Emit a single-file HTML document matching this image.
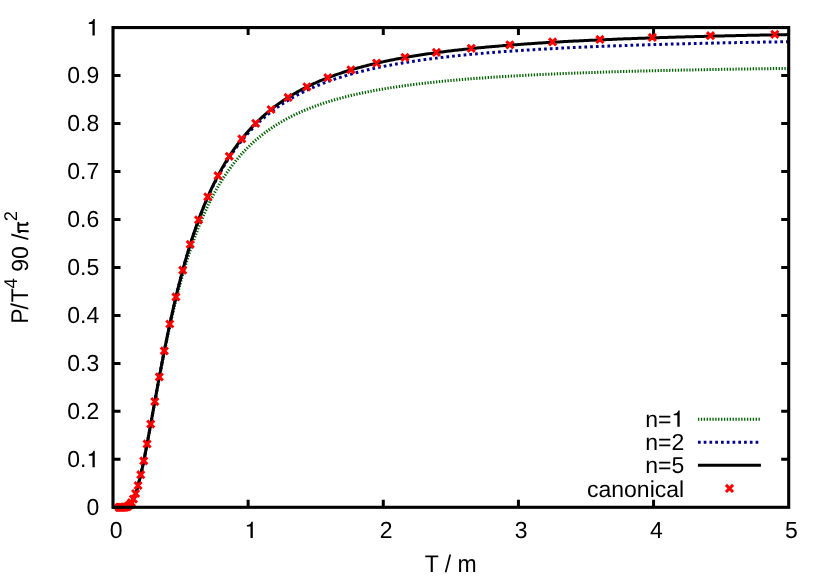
<!DOCTYPE html>
<html>
<head>
<meta charset="utf-8">
<title>P/T^4 vs T/m</title>
<style>
html,body{margin:0;padding:0;background:#ffffff;}
body{width:830px;height:581px;overflow:hidden;}
svg{display:block;will-change:transform;}
text{font-family:"Liberation Sans",sans-serif;font-size:23.0px;fill:#000;text-rendering:geometricPrecision;}
</style>
</head>
<body>
<svg width="830" height="581" viewBox="0 0 830 581">
<rect x="0" y="0" width="830" height="581" fill="#ffffff"/>
<path d="M248.14,507.30 v-7.50 M248.14,27.57 v7.50 M383.28,507.30 v-7.50 M383.28,27.57 v7.50 M518.42,507.30 v-7.50 M518.42,27.57 v7.50 M653.56,507.30 v-7.50 M653.56,27.57 v7.50 M113.00,459.33 h7.50 M788.70,459.33 h-7.50 M113.00,411.35 h7.50 M788.70,411.35 h-7.50 M113.00,363.38 h7.50 M788.70,363.38 h-7.50 M113.00,315.41 h7.50 M788.70,315.41 h-7.50 M113.00,267.44 h7.50 M788.70,267.44 h-7.50 M113.00,219.46 h7.50 M788.70,219.46 h-7.50 M113.00,171.49 h7.50 M788.70,171.49 h-7.50 M113.00,123.52 h7.50 M788.70,123.52 h-7.50 M113.00,75.54 h7.50 M788.70,75.54 h-7.50" fill="none" stroke="#000" stroke-width="3" stroke-linecap="butt"/>
<g fill="none" stroke-linecap="butt" stroke-linejoin="round">
<path d="M113.00,507.30 L113.51,507.30 L114.02,507.30 L114.52,507.30 L115.03,507.30 L115.54,507.30 L116.05,507.30 L116.56,507.30 L117.06,507.30 L117.57,507.30 L118.08,507.30 L118.59,507.30 L119.10,507.30 L119.60,507.30 L120.11,507.30 L120.62,507.30 L121.13,507.30 L121.64,507.30 L122.14,507.29 L122.65,507.29 L123.16,507.27 L123.67,507.25 L124.18,507.22 L124.69,507.18 L125.19,507.11 L125.70,507.03 L126.21,506.91 L126.72,506.76 L127.23,506.57 L127.73,506.33 L128.24,506.04 L128.75,505.69 L129.26,505.28 L129.77,504.80 L130.27,504.25 L130.78,503.63 L131.29,502.93 L131.80,502.14 L132.31,501.28 L132.81,500.33 L133.32,499.29 L133.83,498.17 L134.34,496.96 L134.85,495.66 L135.35,494.28 L135.86,492.81 L136.37,491.27 L136.88,489.64 L137.39,487.93 L137.89,486.15 L138.40,484.29 L138.91,482.36 L139.42,480.37 L139.93,478.31 L140.43,476.18 L140.94,474.00 L141.45,471.76 L141.96,469.46 L142.47,467.12 L142.97,464.73 L143.48,462.29 L143.99,459.82 L144.50,457.30 L145.01,454.76 L145.51,452.17 L146.02,449.56 L146.53,446.92 L147.04,444.26 L147.55,441.58 L148.06,438.87 L148.56,436.15 L149.07,433.42 L149.58,430.67 L150.09,427.91 L150.60,425.14 L151.10,422.37 L151.61,419.59 L152.12,416.81 L152.63,414.03 L153.14,411.24 L153.64,408.46 L154.15,405.68 L154.66,402.91 L155.17,400.14 L155.68,397.38 L156.18,394.62 L156.69,391.88 L157.20,389.15 L157.71,386.42 L158.22,383.71 L158.72,381.01 L159.23,378.32 L159.74,375.65 L160.25,373.00 L160.76,370.35 L161.26,367.73 L161.77,365.12 L162.28,362.53 L162.79,359.95 L163.30,357.40 L163.80,354.86 L164.31,352.34 L164.82,349.84 L165.33,347.35 L165.84,344.89 L166.34,342.45 L166.85,340.03 L167.36,337.62 L167.87,335.24 L168.38,332.88 L168.88,330.54 L169.39,328.22 L169.90,325.91 L170.41,323.63 L170.92,321.38 L171.43,319.14 L171.93,316.92 L172.44,314.72 L172.95,312.55 L173.46,310.39 L173.97,308.26 L174.47,306.14 L174.98,304.05 L175.49,301.97 L176.00,299.92 L176.51,297.89 L177.01,295.88 L177.52,293.88 L178.03,291.91 L178.54,289.96 L179.05,288.03 L179.55,286.11 L180.06,284.22 L180.57,282.35 L181.08,280.49 L181.59,278.66 L182.09,276.84 L182.60,275.04 L183.11,273.26 L183.62,271.50 L184.13,269.76 L184.63,268.03 L185.14,266.33 L185.65,264.64 L186.16,262.97 L186.67,261.31 L187.17,259.68 L187.68,258.06 L188.19,256.46 L188.70,254.87 L189.21,253.30 L189.71,251.75 L190.22,250.22 L190.73,248.70 L191.24,247.19 L191.75,245.70 L192.26,244.23 L192.76,242.78 L193.27,241.34 L193.78,239.91 L194.29,238.50 L194.80,237.10 L195.30,235.72 L195.81,234.35 L196.32,233.00 L196.83,231.66 L197.34,230.34 L197.84,229.03 L198.35,227.73 L198.86,226.45 L199.37,225.18 L199.88,223.92 L200.38,222.68 L200.89,221.45 L201.40,220.23 L201.91,219.03 L202.42,217.83 L202.92,216.65 L203.43,215.48 L203.94,214.33 L204.45,213.19 L204.96,212.05 L205.46,210.93 L205.97,209.82 L206.48,208.73 L206.99,207.64 L207.50,206.56 L208.00,205.50 L208.51,204.45 L209.02,203.40 L209.53,202.37 L210.04,201.35 L210.54,200.34 L211.05,199.34 L211.56,198.35 L212.07,197.37 L212.58,196.39 L213.08,195.43 L213.59,194.48 L214.10,193.54 L214.61,192.61 L215.12,191.68 L215.63,190.77 L216.13,189.86 L216.64,188.97 L217.15,188.08 L217.66,187.20 L218.17,186.33 L218.67,185.47 L219.18,184.61 L219.69,183.77 L220.20,182.93 L220.71,182.10 L221.21,181.28 L221.72,180.47 L222.23,179.67 L222.74,178.87 L223.25,178.08 L223.75,177.30 L224.26,176.53 L224.77,175.76 L225.28,175.00 L225.79,174.25 L226.29,173.50 L226.80,172.77 L227.31,172.04 L227.82,171.31 L228.33,170.59 L228.83,169.88 L229.34,169.18 L229.85,168.48 L230.36,167.79 L230.87,167.11 L231.37,166.43 L231.88,165.76 L232.39,165.09 L232.90,164.43 L233.41,163.78 L233.91,163.13 L234.42,162.49 L234.93,161.86 L235.44,161.23 L235.95,160.61 L236.45,159.99 L236.96,159.38 L237.47,158.77 L237.98,158.17 L238.49,157.57 L239.00,156.98 L239.50,156.40 L240.01,155.82 L240.52,155.24 L241.03,154.67 L241.54,154.11 L242.04,153.55 L242.55,152.99 L243.06,152.44 L243.57,151.90 L244.08,151.36 L244.58,150.82 L245.09,150.29 L245.60,149.77 L246.11,149.24 L246.62,148.73 L247.12,148.21 L247.63,147.71 L248.14,147.20 L248.65,146.70 L249.16,146.21 L249.66,145.72 L250.17,145.23 L250.68,144.75 L251.19,144.27 L251.70,143.80 L252.20,143.33 L252.71,142.86 L253.22,142.40 L253.73,141.94 L254.24,141.48 L254.74,141.03 L255.25,140.59 L255.76,140.14 L256.27,139.70 L256.78,139.27 L257.28,138.83 L257.79,138.41 L258.30,137.98 L258.81,137.56 L259.32,137.14 L259.83,136.73 L260.33,136.31 L260.84,135.91 L261.35,135.50 L261.86,135.10 L262.37,134.70 L262.87,134.31 L263.38,133.91 L263.89,133.53 L264.40,133.14 L264.91,132.76 L265.41,132.38 L265.92,132.00 L266.43,131.63 L266.94,131.26 L267.45,130.89 L267.95,130.53 L268.46,130.16 L268.97,129.81 L269.48,129.45 L269.99,129.10 L270.49,128.75 L271.00,128.40 L271.51,128.05 L272.02,127.71 L272.53,127.37 L273.03,127.03 L273.54,126.70 L274.05,126.37 L274.56,126.04 L275.07,125.71 L275.57,125.39 L276.08,125.06 L276.59,124.74 L277.10,124.43 L277.61,124.11 L278.11,123.80 L278.62,123.49 L279.13,123.18 L279.64,122.88 L280.15,122.57 L280.65,122.27 L281.16,121.97 L281.67,121.68 L282.18,121.38 L282.69,121.09 L283.20,120.80 L283.70,120.52 L284.21,120.23 L284.72,119.95 L285.23,119.66 L285.74,119.39 L286.24,119.11 L286.75,118.83 L287.26,118.56 L287.77,118.29 L288.28,118.02 L288.78,117.75 L289.29,117.49 L289.80,117.22 L290.31,116.96 L290.82,116.70 L291.32,116.44 L291.83,116.19 L292.34,115.93 L292.85,115.68 L293.36,115.43 L293.86,115.18 L294.37,114.93 L294.88,114.69 L295.39,114.45 L295.90,114.20 L296.40,113.96 L296.91,113.73 L297.42,113.49 L297.93,113.25 L298.44,113.02 L298.94,112.79 L299.45,112.56 L299.96,112.33 L300.47,112.10 L300.98,111.88 L301.48,111.65 L301.99,111.43 L302.50,111.21 L303.01,110.99 L303.52,110.77 L304.02,110.55 L304.53,110.34 L305.04,110.12 L305.55,109.91 L306.06,109.70 L306.57,109.49 L307.07,109.28 L307.58,109.08 L308.09,108.87 L308.60,108.67 L309.11,108.47 L309.61,108.26 L310.12,108.06 L310.63,107.87 L311.14,107.67 L311.65,107.47 L312.15,107.28 L312.66,107.09 L313.17,106.89 L313.68,106.70 L314.19,106.51 L314.69,106.32 L315.20,106.14 L315.71,105.95 L317.29,105.38 L318.87,104.82 L320.46,104.27 L322.04,103.73 L323.62,103.21 L325.20,102.69 L326.78,102.18 L328.37,101.68 L329.95,101.20 L331.53,100.72 L333.11,100.25 L334.69,99.79 L336.27,99.33 L337.86,98.89 L339.44,98.45 L341.02,98.03 L342.60,97.61 L344.18,97.19 L345.77,96.79 L347.35,96.39 L348.93,96.00 L350.51,95.62 L352.09,95.24 L353.68,94.87 L355.26,94.50 L356.84,94.15 L358.42,93.79 L360.00,93.45 L361.59,93.11 L363.17,92.78 L364.75,92.45 L366.33,92.12 L367.91,91.81 L369.49,91.49 L371.08,91.19 L372.66,90.89 L374.24,90.59 L375.82,90.30 L377.40,90.01 L378.99,89.73 L380.57,89.45 L382.15,89.17 L383.73,88.90 L385.31,88.64 L386.90,88.38 L388.48,88.12 L390.06,87.87 L391.64,87.62 L393.22,87.37 L394.81,87.13 L396.39,86.89 L397.97,86.66 L399.55,86.43 L401.13,86.20 L402.71,85.98 L404.30,85.76 L405.88,85.54 L407.46,85.33 L409.04,85.12 L410.62,84.91 L412.21,84.70 L413.79,84.50 L415.37,84.30 L416.95,84.11 L418.53,83.91 L420.12,83.72 L421.70,83.54 L423.28,83.35 L424.86,83.17 L426.44,82.99 L428.03,82.81 L429.61,82.64 L431.19,82.46 L432.77,82.29 L434.35,82.12 L435.93,81.96 L437.52,81.80 L439.10,81.63 L440.68,81.47 L442.26,81.32 L443.84,81.16 L445.43,81.01 L447.01,80.86 L448.59,80.71 L450.17,80.56 L451.75,80.42 L453.34,80.28 L454.92,80.13 L456.50,80.00 L458.08,79.86 L459.66,79.72 L461.25,79.59 L462.83,79.46 L464.41,79.32 L465.99,79.20 L467.57,79.07 L469.15,78.94 L470.74,78.82 L472.32,78.69 L473.90,78.57 L475.48,78.45 L477.06,78.34 L478.65,78.22 L480.23,78.10 L481.81,77.99 L483.39,77.88 L484.97,77.76 L486.56,77.65 L488.14,77.55 L489.72,77.44 L491.30,77.33 L492.88,77.23 L494.47,77.12 L496.05,77.02 L497.63,76.92 L499.21,76.82 L500.79,76.72 L502.37,76.62 L503.96,76.53 L505.54,76.43 L507.12,76.34 L508.70,76.24 L510.28,76.15 L511.87,76.06 L513.45,75.97 L515.03,75.88 L516.61,75.79 L518.19,75.70 L519.78,75.62 L521.36,75.53 L522.94,75.45 L524.52,75.36 L526.10,75.28 L527.69,75.20 L529.27,75.12 L530.85,75.04 L532.43,74.96 L534.01,74.88 L535.59,74.80 L537.18,74.73 L538.76,74.65 L540.34,74.58 L541.92,74.50 L543.50,74.43 L545.09,74.35 L546.67,74.28 L548.25,74.21 L549.83,74.14 L551.41,74.07 L553.00,74.00 L554.58,73.93 L556.16,73.87 L557.74,73.80 L559.32,73.73 L560.91,73.67 L562.49,73.60 L564.07,73.54 L565.65,73.47 L567.23,73.41 L568.82,73.35 L570.40,73.29 L571.98,73.23 L573.56,73.17 L575.14,73.11 L576.72,73.05 L578.31,72.99 L579.89,72.93 L581.47,72.87 L583.05,72.81 L584.63,72.76 L586.22,72.70 L587.80,72.65 L589.38,72.59 L590.96,72.54 L592.54,72.48 L594.13,72.43 L595.71,72.38 L597.29,72.32 L598.87,72.27 L600.45,72.22 L602.04,72.17 L603.62,72.12 L605.20,72.07 L606.78,72.02 L608.36,71.97 L609.94,71.92 L611.53,71.87 L613.11,71.83 L614.69,71.78 L616.27,71.73 L617.85,71.69 L619.44,71.64 L621.02,71.59 L622.60,71.55 L624.18,71.50 L625.76,71.46 L627.35,71.42 L628.93,71.37 L630.51,71.33 L632.09,71.29 L633.67,71.24 L635.26,71.20 L636.84,71.16 L638.42,71.12 L640.00,71.08 L641.58,71.04 L643.16,71.00 L644.75,70.96 L646.33,70.92 L647.91,70.88 L649.49,70.84 L651.07,70.80 L652.66,70.76 L654.24,70.72 L655.82,70.69 L657.40,70.65 L658.98,70.61 L660.57,70.57 L662.15,70.54 L663.73,70.50 L665.31,70.47 L666.89,70.43 L668.48,70.40 L670.06,70.36 L671.64,70.33 L673.22,70.29 L674.80,70.26 L676.38,70.22 L677.97,70.19 L679.55,70.16 L681.13,70.12 L682.71,70.09 L684.29,70.06 L685.88,70.03 L687.46,69.99 L689.04,69.96 L690.62,69.93 L692.20,69.90 L693.79,69.87 L695.37,69.84 L696.95,69.81 L698.53,69.78 L700.11,69.75 L701.70,69.72 L703.28,69.69 L704.86,69.66 L706.44,69.63 L708.02,69.60 L709.60,69.57 L711.19,69.54 L712.77,69.52 L714.35,69.49 L715.93,69.46 L717.51,69.43 L719.10,69.41 L720.68,69.38 L722.26,69.35 L723.84,69.32 L725.42,69.30 L727.01,69.27 L728.59,69.25 L730.17,69.22 L731.75,69.19 L733.33,69.17 L734.92,69.14 L736.50,69.12 L738.08,69.09 L739.66,69.07 L741.24,69.04 L742.82,69.02 L744.41,68.99 L745.99,68.97 L747.57,68.95 L749.15,68.92 L750.73,68.90 L752.32,68.88 L753.90,68.85 L755.48,68.83 L757.06,68.81 L758.64,68.78 L760.23,68.76 L761.81,68.74 L763.39,68.72 L764.97,68.69 L766.55,68.67 L768.14,68.65 L769.72,68.63 L771.30,68.61 L772.88,68.59 L774.46,68.57 L776.04,68.54 L777.63,68.52 L779.21,68.50 L780.79,68.48 L782.37,68.46 L783.95,68.44 L785.54,68.42 L787.12,68.40 L788.70,68.38" stroke="#006400" stroke-width="3" stroke-dasharray="1.35 1.5322" stroke-dashoffset="0.563"/>
<path d="M113.00,507.30 L113.51,507.30 L114.02,507.30 L114.52,507.30 L115.03,507.30 L115.54,507.30 L116.05,507.30 L116.56,507.30 L117.06,507.30 L117.57,507.30 L118.08,507.30 L118.59,507.30 L119.10,507.30 L119.60,507.30 L120.11,507.30 L120.62,507.30 L121.13,507.30 L121.64,507.30 L122.14,507.29 L122.65,507.29 L123.16,507.27 L123.67,507.25 L124.18,507.22 L124.69,507.18 L125.19,507.11 L125.70,507.03 L126.21,506.91 L126.72,506.76 L127.23,506.57 L127.73,506.33 L128.24,506.04 L128.75,505.69 L129.26,505.28 L129.77,504.80 L130.27,504.25 L130.78,503.63 L131.29,502.93 L131.80,502.14 L132.31,501.28 L132.81,500.33 L133.32,499.29 L133.83,498.16 L134.34,496.95 L134.85,495.66 L135.35,494.28 L135.86,492.81 L136.37,491.26 L136.88,489.63 L137.39,487.92 L137.89,486.14 L138.40,484.28 L138.91,482.34 L139.42,480.34 L139.93,478.28 L140.43,476.15 L140.94,473.96 L141.45,471.71 L141.96,469.41 L142.47,467.06 L142.97,464.66 L143.48,462.22 L143.99,459.73 L144.50,457.20 L145.01,454.64 L145.51,452.05 L146.02,449.42 L146.53,446.77 L147.04,444.09 L147.55,441.39 L148.06,438.66 L148.56,435.92 L149.07,433.17 L149.58,430.40 L150.09,427.61 L150.60,424.82 L151.10,422.02 L151.61,419.21 L152.12,416.40 L152.63,413.59 L153.14,410.78 L153.64,407.96 L154.15,405.15 L154.66,402.34 L155.17,399.53 L155.68,396.73 L156.18,393.94 L156.69,391.15 L157.20,388.38 L157.71,385.61 L158.22,382.85 L158.72,380.10 L159.23,377.37 L159.74,374.65 L160.25,371.94 L160.76,369.25 L161.26,366.57 L161.77,363.91 L162.28,361.26 L162.79,358.63 L163.30,356.02 L163.80,353.42 L164.31,350.84 L164.82,348.28 L165.33,345.73 L165.84,343.21 L166.34,340.70 L166.85,338.21 L167.36,335.74 L167.87,333.30 L168.38,330.87 L168.88,328.45 L169.39,326.06 L169.90,323.69 L170.41,321.34 L170.92,319.01 L171.43,316.70 L171.93,314.41 L172.44,312.14 L172.95,309.89 L173.46,307.65 L173.97,305.44 L174.47,303.25 L174.98,301.08 L175.49,298.93 L176.00,296.80 L176.51,294.68 L177.01,292.59 L177.52,290.52 L178.03,288.47 L178.54,286.43 L179.05,284.42 L179.55,282.42 L180.06,280.45 L180.57,278.49 L181.08,276.55 L181.59,274.63 L182.09,272.73 L182.60,270.85 L183.11,268.98 L183.62,267.14 L184.13,265.31 L184.63,263.50 L185.14,261.71 L185.65,259.93 L186.16,258.18 L186.67,256.44 L187.17,254.72 L187.68,253.01 L188.19,251.32 L188.70,249.65 L189.21,247.99 L189.71,246.36 L190.22,244.73 L190.73,243.13 L191.24,241.54 L191.75,239.96 L192.26,238.40 L192.76,236.86 L193.27,235.33 L193.78,233.82 L194.29,232.32 L194.80,230.84 L195.30,229.37 L195.81,227.92 L196.32,226.48 L196.83,225.05 L197.34,223.64 L197.84,222.24 L198.35,220.86 L198.86,219.49 L199.37,218.14 L199.88,216.79 L200.38,215.47 L200.89,214.15 L201.40,212.85 L201.91,211.56 L202.42,210.28 L202.92,209.01 L203.43,207.76 L203.94,206.52 L204.45,205.29 L204.96,204.08 L205.46,202.87 L205.97,201.68 L206.48,200.50 L206.99,199.33 L207.50,198.17 L208.00,197.02 L208.51,195.89 L209.02,194.76 L209.53,193.65 L210.04,192.54 L210.54,191.45 L211.05,190.37 L211.56,189.30 L212.07,188.24 L212.58,187.18 L213.08,186.14 L213.59,185.11 L214.10,184.09 L214.61,183.08 L215.12,182.08 L215.63,181.08 L216.13,180.10 L216.64,179.12 L217.15,178.16 L217.66,177.20 L218.17,176.26 L218.67,175.32 L219.18,174.39 L219.69,173.47 L220.20,172.55 L220.71,171.65 L221.21,170.75 L221.72,169.87 L222.23,168.99 L222.74,168.12 L223.25,167.25 L223.75,166.40 L224.26,165.55 L224.77,164.71 L225.28,163.88 L225.79,163.06 L226.29,162.24 L226.80,161.43 L227.31,160.63 L227.82,159.83 L228.33,159.04 L228.83,158.26 L229.34,157.49 L229.85,156.72 L230.36,155.96 L230.87,155.21 L231.37,154.46 L231.88,153.72 L232.39,152.99 L232.90,152.26 L233.41,151.54 L233.91,150.83 L234.42,150.12 L234.93,149.42 L235.44,148.72 L235.95,148.03 L236.45,147.35 L236.96,146.67 L237.47,146.00 L237.98,145.33 L238.49,144.67 L239.00,144.02 L239.50,143.37 L240.01,142.73 L240.52,142.09 L241.03,141.46 L241.54,140.83 L242.04,140.21 L242.55,139.59 L243.06,138.98 L243.57,138.37 L244.08,137.77 L244.58,137.18 L245.09,136.59 L245.60,136.00 L246.11,135.42 L246.62,134.84 L247.12,134.27 L247.63,133.70 L248.14,133.14 L248.65,132.59 L249.16,132.03 L249.66,131.48 L250.17,130.94 L250.68,130.40 L251.19,129.87 L251.70,129.34 L252.20,128.81 L252.71,128.29 L253.22,127.77 L253.73,127.26 L254.24,126.75 L254.74,126.24 L255.25,125.74 L255.76,125.24 L256.27,124.75 L256.78,124.26 L257.28,123.77 L257.79,123.29 L258.30,122.81 L258.81,122.34 L259.32,121.87 L259.83,121.40 L260.33,120.94 L260.84,120.48 L261.35,120.02 L261.86,119.57 L262.37,119.12 L262.87,118.68 L263.38,118.24 L263.89,117.80 L264.40,117.36 L264.91,116.93 L265.41,116.50 L265.92,116.08 L266.43,115.66 L266.94,115.24 L267.45,114.82 L267.95,114.41 L268.46,114.00 L268.97,113.60 L269.48,113.19 L269.99,112.79 L270.49,112.40 L271.00,112.00 L271.51,111.61 L272.02,111.22 L272.53,110.84 L273.03,110.46 L273.54,110.08 L274.05,109.70 L274.56,109.33 L275.07,108.95 L275.57,108.59 L276.08,108.22 L276.59,107.86 L277.10,107.50 L277.61,107.14 L278.11,106.78 L278.62,106.43 L279.13,106.08 L279.64,105.73 L280.15,105.39 L280.65,105.05 L281.16,104.71 L281.67,104.37 L282.18,104.03 L282.69,103.70 L283.20,103.37 L283.70,103.04 L284.21,102.72 L284.72,102.39 L285.23,102.07 L285.74,101.75 L286.24,101.44 L286.75,101.12 L287.26,100.81 L287.77,100.50 L288.28,100.19 L288.78,99.89 L289.29,99.58 L289.80,99.28 L290.31,98.98 L290.82,98.68 L291.32,98.39 L291.83,98.10 L292.34,97.81 L292.85,97.52 L293.36,97.23 L293.86,96.94 L294.37,96.66 L294.88,96.38 L295.39,96.10 L295.90,95.82 L296.40,95.55 L296.91,95.27 L297.42,95.00 L297.93,94.73 L298.44,94.46 L298.94,94.20 L299.45,93.93 L299.96,93.67 L300.47,93.41 L300.98,93.15 L301.48,92.89 L301.99,92.63 L302.50,92.38 L303.01,92.13 L303.52,91.87 L304.02,91.62 L304.53,91.38 L305.04,91.13 L305.55,90.89 L306.06,90.64 L306.57,90.40 L307.07,90.16 L307.58,89.92 L308.09,89.69 L308.60,89.45 L309.11,89.22 L309.61,88.99 L310.12,88.76 L310.63,88.53 L311.14,88.30 L311.65,88.07 L312.15,87.85 L312.66,87.62 L313.17,87.40 L313.68,87.18 L314.19,86.96 L314.69,86.74 L315.20,86.53 L315.71,86.31 L317.29,85.65 L318.87,85.00 L320.46,84.37 L322.04,83.74 L323.62,83.13 L325.20,82.53 L326.78,81.94 L328.37,81.36 L329.95,80.79 L331.53,80.24 L333.11,79.69 L334.69,79.15 L336.27,78.62 L337.86,78.11 L339.44,77.60 L341.02,77.10 L342.60,76.61 L344.18,76.13 L345.77,75.65 L347.35,75.19 L348.93,74.73 L350.51,74.28 L352.09,73.84 L353.68,73.40 L355.26,72.98 L356.84,72.56 L358.42,72.14 L360.00,71.74 L361.59,71.34 L363.17,70.95 L364.75,70.56 L366.33,70.18 L367.91,69.81 L369.49,69.44 L371.08,69.08 L372.66,68.72 L374.24,68.37 L375.82,68.03 L377.40,67.69 L378.99,67.36 L380.57,67.03 L382.15,66.70 L383.73,66.38 L385.31,66.07 L386.90,65.76 L388.48,65.46 L390.06,65.16 L391.64,64.86 L393.22,64.57 L394.81,64.29 L396.39,64.01 L397.97,63.73 L399.55,63.45 L401.13,63.19 L402.71,62.92 L404.30,62.66 L405.88,62.40 L407.46,62.15 L409.04,61.90 L410.62,61.65 L412.21,61.40 L413.79,61.16 L415.37,60.93 L416.95,60.69 L418.53,60.46 L420.12,60.24 L421.70,60.01 L423.28,59.79 L424.86,59.58 L426.44,59.36 L428.03,59.15 L429.61,58.94 L431.19,58.73 L432.77,58.53 L434.35,58.33 L435.93,58.13 L437.52,57.94 L439.10,57.75 L440.68,57.56 L442.26,57.37 L443.84,57.18 L445.43,57.00 L447.01,56.82 L448.59,56.64 L450.17,56.47 L451.75,56.29 L453.34,56.12 L454.92,55.95 L456.50,55.78 L458.08,55.62 L459.66,55.46 L461.25,55.30 L462.83,55.14 L464.41,54.98 L465.99,54.83 L467.57,54.67 L469.15,54.52 L470.74,54.37 L472.32,54.22 L473.90,54.08 L475.48,53.93 L477.06,53.79 L478.65,53.65 L480.23,53.51 L481.81,53.38 L483.39,53.24 L484.97,53.11 L486.56,52.97 L488.14,52.84 L489.72,52.71 L491.30,52.59 L492.88,52.46 L494.47,52.33 L496.05,52.21 L497.63,52.09 L499.21,51.97 L500.79,51.85 L502.37,51.73 L503.96,51.61 L505.54,51.50 L507.12,51.39 L508.70,51.27 L510.28,51.16 L511.87,51.05 L513.45,50.94 L515.03,50.83 L516.61,50.73 L518.19,50.62 L519.78,50.52 L521.36,50.41 L522.94,50.31 L524.52,50.21 L526.10,50.11 L527.69,50.01 L529.27,49.91 L530.85,49.82 L532.43,49.72 L534.01,49.63 L535.59,49.53 L537.18,49.44 L538.76,49.35 L540.34,49.26 L541.92,49.17 L543.50,49.08 L545.09,48.99 L546.67,48.90 L548.25,48.82 L549.83,48.73 L551.41,48.65 L553.00,48.56 L554.58,48.48 L556.16,48.40 L557.74,48.32 L559.32,48.24 L560.91,48.16 L562.49,48.08 L564.07,48.00 L565.65,47.92 L567.23,47.85 L568.82,47.77 L570.40,47.70 L571.98,47.62 L573.56,47.55 L575.14,47.48 L576.72,47.40 L578.31,47.33 L579.89,47.26 L581.47,47.19 L583.05,47.12 L584.63,47.05 L586.22,46.99 L587.80,46.92 L589.38,46.85 L590.96,46.79 L592.54,46.72 L594.13,46.65 L595.71,46.59 L597.29,46.53 L598.87,46.46 L600.45,46.40 L602.04,46.34 L603.62,46.28 L605.20,46.22 L606.78,46.16 L608.36,46.10 L609.94,46.04 L611.53,45.98 L613.11,45.92 L614.69,45.86 L616.27,45.81 L617.85,45.75 L619.44,45.69 L621.02,45.64 L622.60,45.58 L624.18,45.53 L625.76,45.47 L627.35,45.42 L628.93,45.37 L630.51,45.31 L632.09,45.26 L633.67,45.21 L635.26,45.16 L636.84,45.11 L638.42,45.06 L640.00,45.01 L641.58,44.96 L643.16,44.91 L644.75,44.86 L646.33,44.81 L647.91,44.76 L649.49,44.71 L651.07,44.67 L652.66,44.62 L654.24,44.57 L655.82,44.53 L657.40,44.48 L658.98,44.44 L660.57,44.39 L662.15,44.35 L663.73,44.30 L665.31,44.26 L666.89,44.22 L668.48,44.17 L670.06,44.13 L671.64,44.09 L673.22,44.05 L674.80,44.01 L676.38,43.96 L677.97,43.92 L679.55,43.88 L681.13,43.84 L682.71,43.80 L684.29,43.76 L685.88,43.72 L687.46,43.68 L689.04,43.64 L690.62,43.61 L692.20,43.57 L693.79,43.53 L695.37,43.49 L696.95,43.46 L698.53,43.42 L700.11,43.38 L701.70,43.35 L703.28,43.31 L704.86,43.27 L706.44,43.24 L708.02,43.20 L709.60,43.17 L711.19,43.13 L712.77,43.10 L714.35,43.06 L715.93,43.03 L717.51,43.00 L719.10,42.96 L720.68,42.93 L722.26,42.90 L723.84,42.86 L725.42,42.83 L727.01,42.80 L728.59,42.77 L730.17,42.73 L731.75,42.70 L733.33,42.67 L734.92,42.64 L736.50,42.61 L738.08,42.58 L739.66,42.55 L741.24,42.52 L742.82,42.49 L744.41,42.46 L745.99,42.43 L747.57,42.40 L749.15,42.37 L750.73,42.34 L752.32,42.31 L753.90,42.29 L755.48,42.26 L757.06,42.23 L758.64,42.20 L760.23,42.17 L761.81,42.15 L763.39,42.12 L764.97,42.09 L766.55,42.06 L768.14,42.04 L769.72,42.01 L771.30,41.98 L772.88,41.96 L774.46,41.93 L776.04,41.91 L777.63,41.88 L779.21,41.86 L780.79,41.83 L782.37,41.81 L783.95,41.78 L785.54,41.76 L787.12,41.73 L788.70,41.71" stroke="#00008b" stroke-width="3" stroke-dasharray="2.7 3.0645" stroke-dashoffset="-0.797"/>
<path d="M113.00,507.30 L113.51,507.30 L114.02,507.30 L114.52,507.30 L115.03,507.30 L115.54,507.30 L116.05,507.30 L116.56,507.30 L117.06,507.30 L117.57,507.30 L118.08,507.30 L118.59,507.30 L119.10,507.30 L119.60,507.30 L120.11,507.30 L120.62,507.30 L121.13,507.30 L121.64,507.30 L122.14,507.29 L122.65,507.29 L123.16,507.27 L123.67,507.25 L124.18,507.22 L124.69,507.18 L125.19,507.11 L125.70,507.03 L126.21,506.91 L126.72,506.76 L127.23,506.57 L127.73,506.33 L128.24,506.04 L128.75,505.69 L129.26,505.28 L129.77,504.80 L130.27,504.25 L130.78,503.63 L131.29,502.93 L131.80,502.14 L132.31,501.28 L132.81,500.33 L133.32,499.29 L133.83,498.16 L134.34,496.95 L134.85,495.66 L135.35,494.28 L135.86,492.81 L136.37,491.26 L136.88,489.63 L137.39,487.92 L137.89,486.14 L138.40,484.28 L138.91,482.34 L139.42,480.34 L139.93,478.28 L140.43,476.15 L140.94,473.96 L141.45,471.71 L141.96,469.41 L142.47,467.06 L142.97,464.66 L143.48,462.22 L143.99,459.73 L144.50,457.20 L145.01,454.64 L145.51,452.05 L146.02,449.42 L146.53,446.77 L147.04,444.09 L147.55,441.39 L148.06,438.66 L148.56,435.92 L149.07,433.16 L149.58,430.39 L150.09,427.61 L150.60,424.82 L151.10,422.02 L151.61,419.21 L152.12,416.40 L152.63,413.59 L153.14,410.77 L153.64,407.95 L154.15,405.14 L154.66,402.33 L155.17,399.52 L155.68,396.72 L156.18,393.93 L156.69,391.14 L157.20,388.36 L157.71,385.59 L158.22,382.84 L158.72,380.09 L159.23,377.35 L159.74,374.63 L160.25,371.92 L160.76,369.23 L161.26,366.55 L161.77,363.88 L162.28,361.23 L162.79,358.60 L163.30,355.98 L163.80,353.38 L164.31,350.80 L164.82,348.24 L165.33,345.69 L165.84,343.16 L166.34,340.65 L166.85,338.16 L167.36,335.69 L167.87,333.24 L168.38,330.81 L168.88,328.39 L169.39,326.00 L169.90,323.62 L170.41,321.27 L170.92,318.93 L171.43,316.62 L171.93,314.32 L172.44,312.05 L172.95,309.79 L173.46,307.55 L173.97,305.34 L174.47,303.14 L174.98,300.97 L175.49,298.81 L176.00,296.67 L176.51,294.56 L177.01,292.46 L177.52,290.38 L178.03,288.32 L178.54,286.28 L179.05,284.26 L179.55,282.26 L180.06,280.28 L180.57,278.31 L181.08,276.37 L181.59,274.44 L182.09,272.53 L182.60,270.64 L183.11,268.77 L183.62,266.92 L184.13,265.08 L184.63,263.27 L185.14,261.47 L185.65,259.68 L186.16,257.92 L186.67,256.17 L187.17,254.44 L187.68,252.73 L188.19,251.03 L188.70,249.35 L189.21,247.69 L189.71,246.04 L190.22,244.41 L190.73,242.79 L191.24,241.19 L191.75,239.61 L192.26,238.04 L192.76,236.49 L193.27,234.95 L193.78,233.43 L194.29,231.92 L194.80,230.43 L195.30,228.95 L195.81,227.49 L196.32,226.04 L196.83,224.60 L197.34,223.18 L197.84,221.77 L198.35,220.38 L198.86,219.00 L199.37,217.63 L199.88,216.28 L200.38,214.94 L200.89,213.61 L201.40,212.30 L201.91,210.99 L202.42,209.71 L202.92,208.43 L203.43,207.16 L203.94,205.91 L204.45,204.67 L204.96,203.44 L205.46,202.23 L205.97,201.02 L206.48,199.83 L206.99,198.65 L207.50,197.48 L208.00,196.32 L208.51,195.17 L209.02,194.03 L209.53,192.91 L210.04,191.79 L210.54,190.69 L211.05,189.59 L211.56,188.51 L212.07,187.43 L212.58,186.37 L213.08,185.31 L213.59,184.27 L214.10,183.23 L214.61,182.21 L215.12,181.19 L215.63,180.19 L216.13,179.19 L216.64,178.20 L217.15,177.22 L217.66,176.25 L218.17,175.29 L218.67,174.34 L219.18,173.40 L219.69,172.46 L220.20,171.54 L220.71,170.62 L221.21,169.71 L221.72,168.81 L222.23,167.92 L222.74,167.03 L223.25,166.15 L223.75,165.28 L224.26,164.42 L224.77,163.57 L225.28,162.72 L225.79,161.89 L226.29,161.05 L226.80,160.23 L227.31,159.41 L227.82,158.61 L228.33,157.80 L228.83,157.01 L229.34,156.22 L229.85,155.44 L230.36,154.66 L230.87,153.90 L231.37,153.14 L231.88,152.38 L232.39,151.63 L232.90,150.89 L233.41,150.16 L233.91,149.43 L234.42,148.71 L234.93,147.99 L235.44,147.28 L235.95,146.58 L236.45,145.88 L236.96,145.19 L237.47,144.50 L237.98,143.82 L238.49,143.15 L239.00,142.48 L239.50,141.81 L240.01,141.16 L240.52,140.50 L241.03,139.86 L241.54,139.22 L242.04,138.58 L242.55,137.95 L243.06,137.32 L243.57,136.70 L244.08,136.09 L244.58,135.48 L245.09,134.87 L245.60,134.27 L246.11,133.67 L246.62,133.08 L247.12,132.50 L247.63,131.92 L248.14,131.34 L248.65,130.77 L249.16,130.20 L249.66,129.64 L250.17,129.08 L250.68,128.53 L251.19,127.98 L251.70,127.43 L252.20,126.89 L252.71,126.35 L253.22,125.82 L253.73,125.29 L254.24,124.77 L254.74,124.25 L255.25,123.74 L255.76,123.22 L256.27,122.72 L256.78,122.21 L257.28,121.71 L257.79,121.22 L258.30,120.73 L258.81,120.24 L259.32,119.75 L259.83,119.27 L260.33,118.79 L260.84,118.32 L261.35,117.85 L261.86,117.38 L262.37,116.92 L262.87,116.46 L263.38,116.01 L263.89,115.55 L264.40,115.11 L264.91,114.66 L265.41,114.22 L265.92,113.78 L266.43,113.34 L266.94,112.91 L267.45,112.48 L267.95,112.06 L268.46,111.63 L268.97,111.21 L269.48,110.80 L269.99,110.38 L270.49,109.97 L271.00,109.56 L271.51,109.16 L272.02,108.76 L272.53,108.36 L273.03,107.96 L273.54,107.57 L274.05,107.18 L274.56,106.79 L275.07,106.41 L275.57,106.03 L276.08,105.65 L276.59,105.27 L277.10,104.90 L277.61,104.53 L278.11,104.16 L278.62,103.79 L279.13,103.43 L279.64,103.07 L280.15,102.71 L280.65,102.35 L281.16,102.00 L281.67,101.65 L282.18,101.30 L282.69,100.96 L283.20,100.61 L283.70,100.27 L284.21,99.93 L284.72,99.60 L285.23,99.26 L285.74,98.93 L286.24,98.60 L286.75,98.27 L287.26,97.95 L287.77,97.63 L288.28,97.31 L288.78,96.99 L289.29,96.67 L289.80,96.36 L290.31,96.05 L290.82,95.74 L291.32,95.43 L291.83,95.12 L292.34,94.82 L292.85,94.52 L293.36,94.22 L293.86,93.92 L294.37,93.62 L294.88,93.33 L295.39,93.04 L295.90,92.75 L296.40,92.46 L296.91,92.17 L297.42,91.89 L297.93,91.61 L298.44,91.33 L298.94,91.05 L299.45,90.77 L299.96,90.50 L300.47,90.22 L300.98,89.95 L301.48,89.68 L301.99,89.41 L302.50,89.15 L303.01,88.88 L303.52,88.62 L304.02,88.36 L304.53,88.10 L305.04,87.84 L305.55,87.59 L306.06,87.33 L306.57,87.08 L307.07,86.83 L307.58,86.58 L308.09,86.33 L308.60,86.08 L309.11,85.84 L309.61,85.59 L310.12,85.35 L310.63,85.11 L311.14,84.87 L311.65,84.63 L312.15,84.40 L312.66,84.16 L313.17,83.93 L313.68,83.70 L314.19,83.47 L314.69,83.24 L315.20,83.01 L315.71,82.78 L317.29,82.09 L318.87,81.41 L320.46,80.74 L322.04,80.08 L323.62,79.43 L325.20,78.80 L326.78,78.18 L328.37,77.57 L329.95,76.97 L331.53,76.38 L333.11,75.80 L334.69,75.23 L336.27,74.68 L337.86,74.13 L339.44,73.59 L341.02,73.06 L342.60,72.54 L344.18,72.03 L345.77,71.52 L347.35,71.03 L348.93,70.54 L350.51,70.07 L352.09,69.60 L353.68,69.13 L355.26,68.68 L356.84,68.23 L358.42,67.79 L360.00,67.36 L361.59,66.94 L363.17,66.52 L364.75,66.11 L366.33,65.70 L367.91,65.30 L369.49,64.91 L371.08,64.52 L372.66,64.14 L374.24,63.77 L375.82,63.40 L377.40,63.03 L378.99,62.68 L380.57,62.33 L382.15,61.98 L383.73,61.64 L385.31,61.30 L386.90,60.97 L388.48,60.64 L390.06,60.32 L391.64,60.00 L393.22,59.69 L394.81,59.38 L396.39,59.08 L397.97,58.78 L399.55,58.49 L401.13,58.20 L402.71,57.91 L404.30,57.63 L405.88,57.35 L407.46,57.08 L409.04,56.81 L410.62,56.54 L412.21,56.28 L413.79,56.02 L415.37,55.76 L416.95,55.51 L418.53,55.26 L420.12,55.02 L421.70,54.77 L423.28,54.53 L424.86,54.30 L426.44,54.07 L428.03,53.84 L429.61,53.61 L431.19,53.39 L432.77,53.17 L434.35,52.95 L435.93,52.73 L437.52,52.52 L439.10,52.31 L440.68,52.11 L442.26,51.90 L443.84,51.70 L445.43,51.50 L447.01,51.31 L448.59,51.11 L450.17,50.92 L451.75,50.73 L453.34,50.54 L454.92,50.36 L456.50,50.18 L458.08,50.00 L459.66,49.82 L461.25,49.65 L462.83,49.47 L464.41,49.30 L465.99,49.13 L467.57,48.96 L469.15,48.80 L470.74,48.64 L472.32,48.48 L473.90,48.32 L475.48,48.16 L477.06,48.00 L478.65,47.85 L480.23,47.70 L481.81,47.55 L483.39,47.40 L484.97,47.25 L486.56,47.11 L488.14,46.96 L489.72,46.82 L491.30,46.68 L492.88,46.54 L494.47,46.40 L496.05,46.27 L497.63,46.14 L499.21,46.00 L500.79,45.87 L502.37,45.74 L503.96,45.61 L505.54,45.49 L507.12,45.36 L508.70,45.24 L510.28,45.11 L511.87,44.99 L513.45,44.87 L515.03,44.75 L516.61,44.64 L518.19,44.52 L519.78,44.41 L521.36,44.29 L522.94,44.18 L524.52,44.07 L526.10,43.96 L527.69,43.85 L529.27,43.74 L530.85,43.63 L532.43,43.53 L534.01,43.42 L535.59,43.32 L537.18,43.22 L538.76,43.12 L540.34,43.02 L541.92,42.92 L543.50,42.82 L545.09,42.72 L546.67,42.62 L548.25,42.53 L549.83,42.43 L551.41,42.34 L553.00,42.25 L554.58,42.16 L556.16,42.07 L557.74,41.98 L559.32,41.89 L560.91,41.80 L562.49,41.71 L564.07,41.62 L565.65,41.54 L567.23,41.45 L568.82,41.37 L570.40,41.29 L571.98,41.20 L573.56,41.12 L575.14,41.04 L576.72,40.96 L578.31,40.88 L579.89,40.80 L581.47,40.73 L583.05,40.65 L584.63,40.57 L586.22,40.50 L587.80,40.42 L589.38,40.35 L590.96,40.27 L592.54,40.20 L594.13,40.13 L595.71,40.06 L597.29,39.99 L598.87,39.92 L600.45,39.85 L602.04,39.78 L603.62,39.71 L605.20,39.64 L606.78,39.57 L608.36,39.51 L609.94,39.44 L611.53,39.38 L613.11,39.31 L614.69,39.25 L616.27,39.18 L617.85,39.12 L619.44,39.06 L621.02,39.00 L622.60,38.93 L624.18,38.87 L625.76,38.81 L627.35,38.75 L628.93,38.69 L630.51,38.63 L632.09,38.58 L633.67,38.52 L635.26,38.46 L636.84,38.40 L638.42,38.35 L640.00,38.29 L641.58,38.24 L643.16,38.18 L644.75,38.13 L646.33,38.07 L647.91,38.02 L649.49,37.96 L651.07,37.91 L652.66,37.86 L654.24,37.81 L655.82,37.76 L657.40,37.70 L658.98,37.65 L660.57,37.60 L662.15,37.55 L663.73,37.50 L665.31,37.46 L666.89,37.41 L668.48,37.36 L670.06,37.31 L671.64,37.26 L673.22,37.22 L674.80,37.17 L676.38,37.12 L677.97,37.08 L679.55,37.03 L681.13,36.99 L682.71,36.94 L684.29,36.90 L685.88,36.85 L687.46,36.81 L689.04,36.76 L690.62,36.72 L692.20,36.68 L693.79,36.64 L695.37,36.59 L696.95,36.55 L698.53,36.51 L700.11,36.47 L701.70,36.43 L703.28,36.39 L704.86,36.35 L706.44,36.31 L708.02,36.27 L709.60,36.23 L711.19,36.19 L712.77,36.15 L714.35,36.11 L715.93,36.07 L717.51,36.04 L719.10,36.00 L720.68,35.96 L722.26,35.92 L723.84,35.89 L725.42,35.85 L727.01,35.81 L728.59,35.78 L730.17,35.74 L731.75,35.71 L733.33,35.67 L734.92,35.64 L736.50,35.60 L738.08,35.57 L739.66,35.53 L741.24,35.50 L742.82,35.46 L744.41,35.43 L745.99,35.40 L747.57,35.36 L749.15,35.33 L750.73,35.30 L752.32,35.27 L753.90,35.23 L755.48,35.20 L757.06,35.17 L758.64,35.14 L760.23,35.11 L761.81,35.08 L763.39,35.05 L764.97,35.01 L766.55,34.98 L768.14,34.95 L769.72,34.92 L771.30,34.89 L772.88,34.86 L774.46,34.84 L776.04,34.81 L777.63,34.78 L779.21,34.75 L780.79,34.72 L782.37,34.69 L783.95,34.66 L785.54,34.64 L787.12,34.61 L788.70,34.58" stroke="#000000" stroke-width="3"/>
<path d="M771.27,30.74 l7.10,7.10 M771.27,37.84 l7.10,-7.10 M706.92,32.15 l7.10,7.10 M706.92,39.25 l7.10,-7.10 M648.82,33.86 l7.10,7.10 M648.82,40.96 l7.10,-7.10 M596.38,35.91 l7.10,7.10 M596.38,43.01 l7.10,-7.10 M549.03,38.36 l7.10,7.10 M549.03,45.46 l7.10,-7.10 M506.29,41.28 l7.10,7.10 M506.29,48.38 l7.10,-7.10 M467.70,44.76 l7.10,7.10 M467.70,51.86 l7.10,-7.10 M432.86,48.89 l7.10,7.10 M432.86,55.99 l7.10,-7.10 M401.42,53.77 l7.10,7.10 M401.42,60.87 l7.10,-7.10 M373.03,59.53 l7.10,7.10 M373.03,66.63 l7.10,-7.10 M347.40,66.27 l7.10,7.10 M347.40,73.37 l7.10,-7.10 M324.26,74.15 l7.10,7.10 M324.26,81.25 l7.10,-7.10 M303.37,83.29 l7.10,7.10 M303.37,90.39 l7.10,-7.10 M284.52,93.84 l7.10,7.10 M284.52,100.94 l7.10,-7.10 M267.49,105.95 l7.10,7.10 M267.49,113.05 l7.10,-7.10 M252.13,119.74 l7.10,7.10 M252.13,126.84 l7.10,-7.10 M238.25,135.32 l7.10,7.10 M238.25,142.42 l7.10,-7.10 M225.73,152.76 l7.10,7.10 M225.73,159.86 l7.10,-7.10 M214.42,172.10 l7.10,7.10 M214.42,179.20 l7.10,-7.10 M204.21,193.31 l7.10,7.10 M204.21,200.41 l7.10,-7.10 M195.00,216.29 l7.10,7.10 M195.00,223.39 l7.10,-7.10 M186.68,240.83 l7.10,7.10 M186.68,247.93 l7.10,-7.10 M179.17,266.65 l7.10,7.10 M179.17,273.75 l7.10,-7.10 M172.39,293.36 l7.10,7.10 M172.39,300.46 l7.10,-7.10 M166.27,320.44 l7.10,7.10 M166.27,327.54 l7.10,-7.10 M160.75,347.33 l7.10,7.10 M160.75,354.43 l7.10,-7.10 M155.76,373.39 l7.10,7.10 M155.76,380.49 l7.10,-7.10 M151.26,397.97 l7.10,7.10 M151.26,405.07 l7.10,-7.10 M147.19,420.47 l7.10,7.10 M147.19,427.57 l7.10,-7.10 M143.52,440.37 l7.10,7.10 M143.52,447.47 l7.10,-7.10 M140.21,457.32 l7.10,7.10 M140.21,464.42 l7.10,-7.10 M137.22,471.17 l7.10,7.10 M137.22,478.27 l7.10,-7.10 M134.52,481.96 l7.10,7.10 M134.52,489.06 l7.10,-7.10 M132.08,489.94 l7.10,7.10 M132.08,497.04 l7.10,-7.10 M129.88,495.51 l7.10,7.10 M129.88,502.61 l7.10,-7.10 M127.89,499.15 l7.10,7.10 M127.89,506.25 l7.10,-7.10 M126.10,501.37 l7.10,7.10 M126.10,508.47 l7.10,-7.10 M124.48,502.61 l7.10,7.10 M124.48,509.71 l7.10,-7.10 M123.02,503.26 l7.10,7.10 M123.02,510.36 l7.10,-7.10 M121.70,503.56 l7.10,7.10 M121.70,510.66 l7.10,-7.10 M120.51,503.68 l7.10,7.10 M120.51,510.78 l7.10,-7.10 M119.43,503.73 l7.10,7.10 M119.43,510.83 l7.10,-7.10 M118.46,503.74 l7.10,7.10 M118.46,510.84 l7.10,-7.10 M117.59,503.75 l7.10,7.10 M117.59,510.85 l7.10,-7.10 M116.80,503.75 l7.10,7.10 M116.80,510.85 l7.10,-7.10 M116.08,503.75 l7.10,7.10 M116.08,510.85 l7.10,-7.10 M115.44,503.75 l7.10,7.10 M115.44,510.85 l7.10,-7.10" stroke="#ff0000" stroke-width="3"/>
</g>
<g fill="none" stroke-linecap="butt">
<path d="M697.95,419.15 H760.9" stroke="#006400" stroke-width="3" stroke-dasharray="1.35 1.5322"/>
<path d="M697.95,442.3 H760.9" stroke="#00008b" stroke-width="3" stroke-dasharray="2.7 3.0645"/>
<path d="M697.95,465.3 H760.9" stroke="#000000" stroke-width="3"/>
<path d="M725.95,484.85 l7.10,7.10 M725.95,491.95 l7.10,-7.10" stroke="#ff0000" stroke-width="3"/>
</g>
<rect x="113.0" y="27.57" width="675.70" height="479.73" fill="none" stroke="#000" stroke-width="3.1" stroke-linejoin="miter"/>
<g>
<text transform="translate(99.30,515.13) scale(1,1.015)" text-anchor="end">0</text>
<text transform="translate(86.51,467.16) scale(1,1.015)" text-anchor="end">0.</text>
<path transform="translate(86.51,467.16) scale(23.000)" d="M0.259,0 L0.259,-0.500 L0.101,-0.500 L0.101,-0.563 C0.220,-0.572 0.268,-0.610 0.302,-0.709 L0.359,-0.709 L0.359,0 Z" fill="#000"/>
<text transform="translate(99.30,419.18) scale(1,1.015)" text-anchor="end">0.2</text>
<text transform="translate(99.30,371.21) scale(1,1.015)" text-anchor="end">0.3</text>
<text transform="translate(99.30,323.24) scale(1,1.015)" text-anchor="end">0.4</text>
<text transform="translate(99.30,275.26) scale(1,1.015)" text-anchor="end">0.5</text>
<text transform="translate(99.30,227.29) scale(1,1.015)" text-anchor="end">0.6</text>
<text transform="translate(99.30,179.32) scale(1,1.015)" text-anchor="end">0.7</text>
<text transform="translate(99.30,131.35) scale(1,1.015)" text-anchor="end">0.8</text>
<text transform="translate(99.30,83.37) scale(1,1.015)" text-anchor="end">0.9</text>
<path transform="translate(86.51,35.40) scale(23.000)" d="M0.259,0 L0.259,-0.500 L0.101,-0.500 L0.101,-0.563 C0.220,-0.572 0.268,-0.610 0.302,-0.709 L0.359,-0.709 L0.359,0 Z" fill="#000"/>
<text transform="translate(116.20,538.40) scale(1,1.015)" text-anchor="middle">0</text>
<path transform="translate(244.54,538.10) scale(23.000)" d="M0.259,0 L0.259,-0.500 L0.101,-0.500 L0.101,-0.563 C0.220,-0.572 0.268,-0.610 0.302,-0.709 L0.359,-0.709 L0.359,0 Z" fill="#000"/>
<text transform="translate(386.08,538.10) scale(1,1.015)" text-anchor="middle">2</text>
<text transform="translate(521.22,538.10) scale(1,1.015)" text-anchor="middle">3</text>
<text transform="translate(656.36,538.10) scale(1,1.015)" text-anchor="middle">4</text>
<text transform="translate(791.50,538.10) scale(1,1.015)" text-anchor="middle">5</text>
<text x="671.41" y="426.85" text-anchor="end">n=</text>
<path transform="translate(671.41,426.85) scale(23.000)" d="M0.259,0 L0.259,-0.500 L0.101,-0.500 L0.101,-0.563 C0.220,-0.572 0.268,-0.610 0.302,-0.709 L0.359,-0.709 L0.359,0 Z" fill="#000"/>
<text x="684.2" y="450.00" text-anchor="end">n=2</text>
<text x="684.2" y="473.00" text-anchor="end">n=5</text>
<text x="684.2" y="496.50" text-anchor="end">canonical</text>
<text transform="translate(450.75,572.15) scale(1,1.050)" text-anchor="middle">T / m</text>
<g transform="translate(28.3,323.8) rotate(-90)">
<text transform="scale(1,1.05)" x="0" y="0">P</text>
<text transform="scale(1,1.05)" x="14.2" y="0">/</text>
<text transform="scale(1,1.05)" x="21.6" y="0">T</text>
<text x="35.2" y="-11.6" style="font-size:18.4px">4</text>
<text transform="scale(1,1.015)" x="51.95" y="0">90</text>
<text x="83.9" y="0">/</text>
<path transform="translate(90.55,0)" d="M0.95,-8.5 C1.0,-9.6 1.6,-9.9 2.6,-9.9 L10.35,-9.9 M2.5,-9.9 L1.9,-0.5 M8.5,-9.9 L8.5,-2.8 C8.5,-0.8 9.2,-0.2 10.4,-1.1" fill="none" stroke="#000" stroke-width="2.05" stroke-linecap="round" stroke-linejoin="round"/>
<text x="102.6" y="-11.6" style="font-size:18.4px">2</text>
</g>
</g>
</svg>
</body>
</html>
